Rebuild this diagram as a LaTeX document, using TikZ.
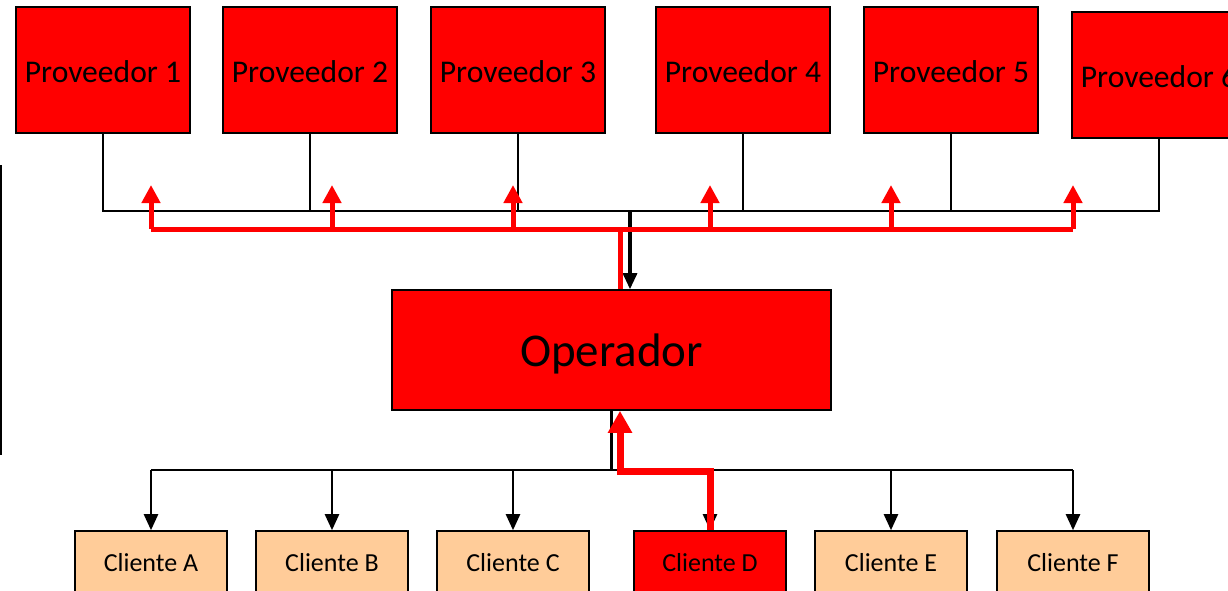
\documentclass[tikz,border=0pt]{standalone}
\usepackage{fontspec}
\setmainfont{Carlito}
\usetikzlibrary{arrows.meta}
\definecolor{rojo}{RGB}{255,0,0}
\definecolor{durazno}{RGB}{255,204,153}

\begin{document}
\begin{tikzpicture}[x=0.5pt,y=-0.5pt,
	caja/.style={draw,line width=0.8pt,inner sep=0pt},
	prov/.style={caja,fill=rojo,minimum width=87pt,minimum height=63pt,text height=12.3pt,text depth=0pt,font=\fontsize{15.8}{19}\selectfont},
	cli/.style={caja,fill=durazno,minimum width=76pt,minimum height=32pt,font=\fontsize{13}{16}\selectfont},
	linea/.style={line width=1.2pt},
	flecha/.style={linea,-{Triangle[width=7pt,length=8pt]}},
	ruta/.style={draw=rojo,line width=2.5pt},
	rutaup/.style={ruta,-{Triangle[width=9pt,length=9pt]}},
	rutacli/.style={draw=rojo,line width=3.5pt,-{Triangle[width=11.5pt,length=11pt]}}]
	\clip (0,0) rectangle (1228,590);
	\node[prov] (p1) at (103,70)  {Proveedor 1};
	\node[prov] (p2) at (310,70)  {Proveedor 2};
	\node[prov] (p3) at (518,70)  {Proveedor 3};
	\node[prov] (p4) at (743,70)  {Proveedor 4};
	\node[prov] (p5) at (951,70)  {Proveedor 5};
	\node[prov] (p6) at (1159,75) {Proveedor 6};
	\node[caja,fill=rojo,minimum width=219.5pt,minimum height=60pt,text depth=0pt,font=\fontsize{23.5}{28}\selectfont] (op) at (611.5,350) {Operador};
	\node[cli] (ca) at (151,563)  {Cliente A};
	\node[cli] (cb) at (332,563)  {Cliente B};
	\node[cli] (cc) at (513,563)  {Cliente C};
	\node[cli,fill=rojo] (cd) at (710,563) {Cliente D};
	\node[cli] (ce) at (891,563)  {Cliente E};
	\node[cli] (cf) at (1073,563) {Cliente F};
	\coordinate (jt)   at (630,211);
	\coordinate (rbus) at (620,229);
	\coordinate (rtip) at (620,185);
	\coordinate (bus)  at (612,470);
	\coordinate (rmid) at (620,471);
	\foreach \p in {p1,p2,p3,p4,p5,p6}
		\draw[linea] (\p.south) |- (jt);
	\draw[flecha,line width=1.6pt] (jt) -- (op.north -| jt);
	\draw[ruta] (ca.north |- rbus) -- (cf.north |- rbus);
	\draw[ruta] (rbus) -- (op.north -| rbus);
	\draw[linea] (op.south) -- (op.south |- bus);
	\draw[linea] (ca.north |- bus) -- (cf.north |- bus);
	\foreach \c in {ca,cb,cc,cd,ce,cf}{
		\draw[flecha] (\c.north |- bus) -- (\c.north);
		\draw[rutaup] (\c.north |- rbus) -- (\c.north |- rtip);
	}
	\draw[rutacli] (cd.north) |- (rmid) -- (rmid |- op.south);
	\draw[linea] (1,165) -- (1,455);
\end{tikzpicture}
\end{document}
